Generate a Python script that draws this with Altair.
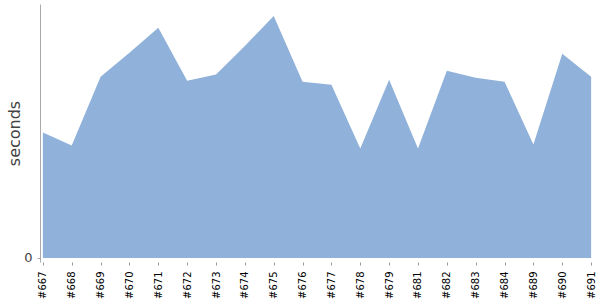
import altair as alt
import pandas as pd

builds = ["#667", "#668", "#669", "#670", "#671", "#672", "#673", "#674", "#675", "#676",
          "#677", "#678", "#679", "#681", "#682", "#683", "#684", "#689", "#690", "#691"]
seconds = [49.4, 44.3, 71.4, 80.8, 90.6, 69.8, 72.2, 83.5, 95.3, 69.4,
           68.2, 43.1, 70.2, 43.1, 73.7, 71.0, 69.4, 44.7, 80.4, 71.4]

df = pd.DataFrame({"build": builds, "seconds": seconds})

chart = alt.Chart(df).mark_area(color="#8fb1da", opacity=1).encode(
    x=alt.X("build:N", sort=builds, title=None,
            scale=alt.Scale(type="point", padding=0.1),
            axis=alt.Axis(labelAngle=-90, labelFontSize=10, labelColor="#000",
                          labelFont="DejaVu Sans", domain=False, tickColor="#999",
                          tickSize=3, offset=0, labelPadding=6)),
    y=alt.Y("seconds:Q", title="seconds",
            scale=alt.Scale(domain=[-1.6, 100], nice=False, zero=False),
            axis=alt.Axis(values=[0], grid=False, domainColor="#aaa", tickColor="#aaa",
                          tickSize=3, labelFontSize=13, labelColor="#444",
                          labelFont="DejaVu Sans", labelPadding=5, titleFont="DejaVu Sans",
                          titleFontSize=16, titleFontWeight="normal", titleColor="#444",
                          titlePadding=1)),
).properties(
    width=554, height=258,
    autosize=alt.AutoSizeParams(type="none"),
    padding={"left": 40, "top": 4, "right": 6, "bottom": 38},
).configure_view(stroke=None)

chart.save("out.html", embed_options={"renderer": "svg", "actions": False})
